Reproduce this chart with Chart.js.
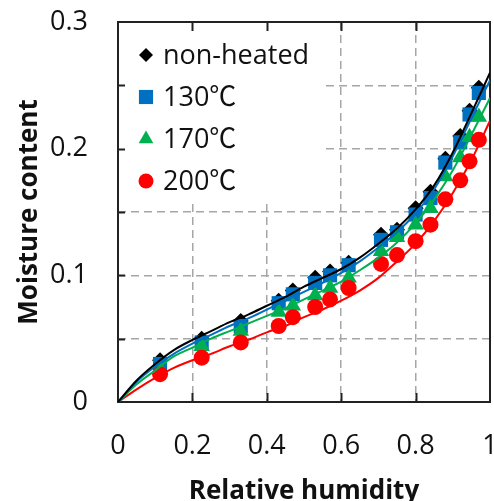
<!DOCTYPE html>
<html>
<head>
<meta charset="utf-8">
<script src="https://cdn.jsdelivr.net/npm/chart.js@4.4.1/dist/chart.umd.min.js"></script>
<style>
  html, body { margin: 0; padding: 0; background: #fff; overflow: hidden; }
</style>
</head>
<body>
<canvas id="chart" width="504" height="501"></canvas>
<script>
// measured points (relative humidity vs moisture content)
const rh = [0.113, 0.225, 0.33, 0.432, 0.47, 0.53, 0.57, 0.62, 0.707, 0.75, 0.80, 0.84, 0.88, 0.92, 0.945, 0.97];
const nonHeated = [0.033, 0.050, 0.064, 0.080, 0.088, 0.098, 0.103, 0.110, 0.132, 0.136, 0.153, 0.166, 0.192, 0.210, 0.230, 0.248];
const heated130 = [0.030, 0.047, 0.060, 0.078, 0.085, 0.094, 0.100, 0.108, 0.128, 0.134, 0.148, 0.161, 0.189, 0.205, 0.227, 0.244];
const heated170 = [0.026, 0.044, 0.056, 0.071, 0.076, 0.084, 0.090, 0.098, 0.119, 0.130, 0.140, 0.153, 0.178, 0.193, 0.209, 0.225];
const heated200 = [0.022, 0.035, 0.047, 0.060, 0.067, 0.075, 0.081, 0.090, 0.109, 0.116, 0.127, 0.140, 0.160, 0.175, 0.190, 0.207];

// fitted curves
const fitRh = [0, 0.05, 0.1, 0.15, 0.2, 0.25, 0.3, 0.35, 0.4, 0.45, 0.5, 0.55, 0.6, 0.65, 0.7, 0.75, 0.8, 0.85, 0.9, 0.95, 1.0];
const fitNonHeated = [0, 0.017, 0.030, 0.041, 0.049, 0.056, 0.063, 0.069, 0.076, 0.083, 0.091, 0.098, 0.105, 0.114, 0.125, 0.137, 0.152, 0.171, 0.197, 0.228, 0.260];
const fit130 = [0, 0.016, 0.028, 0.038, 0.046, 0.053, 0.060, 0.066, 0.073, 0.080, 0.087, 0.094, 0.102, 0.111, 0.122, 0.134, 0.149, 0.168, 0.194, 0.224, 0.254];
const fit170 = [0, 0.014, 0.025, 0.036, 0.043, 0.050, 0.056, 0.062, 0.068, 0.074, 0.081, 0.088, 0.095, 0.104, 0.114, 0.126, 0.141, 0.160, 0.183, 0.211, 0.240];
const fit200 = [0, 0.010, 0.019, 0.027, 0.033, 0.038, 0.044, 0.049, 0.055, 0.060, 0.067, 0.073, 0.080, 0.088, 0.098, 0.111, 0.125, 0.143, 0.165, 0.191, 0.222];

const seriesNames = ["non-heated", "130\u2103", "170\u2103", "200\u2103"];
const xTicks = [0, 0.2, 0.4, 0.6, 0.8, 1];
const yTicks = [0, 0.1, 0.2, 0.3];

const colors = ["#000000", "#0070C0", "#00B050", "#FF0000"];
const shapes = ["rectRot", "rect", "triangle", "circle"];
const sizes = [8, 10, 9.5, 8];
const legendSizes = [7, 10, 8.5, 7.5];

const tickFont = { family: "'Open Sans', 'Noto Sans CJK SC', sans-serif", size: 27 };
const titleFont = { family: "'Open Sans', sans-serif", size: 26, weight: "bold" };

function toPoints(xs, ys) {
  return xs.map((v, i) => ({ x: v, y: ys[i] }));
}

const pointSeries = [nonHeated, heated130, heated170, heated200];
const fitSeries = [fitNonHeated, fit130, fit170, fit200];

const datasets = [];
// curves drawn on top of the markers
fitSeries.forEach((ys, i) => {
  datasets.push({
    label: seriesNames[i] + " fit",
    data: toPoints(fitRh, ys),
    showLine: true,
    borderColor: colors[i],
    borderWidth: 2,
    pointRadius: 0,
    cubicInterpolationMode: "monotone",
    order: 0,
  });
});
pointSeries.forEach((ys, i) => {
  datasets.push({
    label: seriesNames[i],
    data: toPoints(rh, ys),
    showLine: false,
    pointStyle: shapes[i],
    pointRadius: sizes[i],
    backgroundColor: colors[i],
    borderColor: colors[i],
    borderWidth: 0,
    order: 4 - i,
  });
});

// white legend box, frame, inward ticks and legend entries
const framePlugin = {
  id: "frame",
  beforeDatasetsDraw(chart) {
    const { ctx, chartArea: a, scales } = chart;
    const x = scales.x, y = scales.y;
    ctx.save();
    ctx.fillStyle = "#fff";
    ctx.fillRect(a.left + 1, a.top + 1, 202, 178);

    ctx.strokeStyle = "#222";
    ctx.lineWidth = 2;
    ctx.strokeRect(a.left, a.top, a.right - a.left, a.bottom - a.top);

    ctx.beginPath();
    for (let v = 0.05; v < 0.3; v += 0.05) {
      const py = Math.round(y.getPixelForValue(v)) + 0.5;
      ctx.moveTo(a.left, py);
      ctx.lineTo(a.left + 7, py);
    }
    xTicks.slice(1, -1).forEach((v) => {
      const px = Math.round(x.getPixelForValue(v)) + 0.5;
      ctx.moveTo(px, a.bottom);
      ctx.lineTo(px, a.bottom - 9);
      ctx.moveTo(px, a.top);
      ctx.lineTo(px, a.top + 9);
    });
    ctx.stroke();

    // legend
    ctx.font = "27px 'Open Sans', 'Noto Sans CJK SC', sans-serif";
    ctx.textBaseline = "middle";
    ctx.textAlign = "left";
    seriesNames.forEach((name, i) => {
      const cy = 55 + i * 42;
      ctx.fillStyle = colors[i];
      ctx.strokeStyle = colors[i];
      ctx.lineWidth = 0;
      Chart.helpers.drawPoint(ctx, { pointStyle: shapes[i], radius: legendSizes[i], borderWidth: 0 }, 146, cy);
      ctx.fillStyle = "#111";
      ctx.fillText(name, 163, cy + 1);
    });
    ctx.restore();
  },
};

new Chart(document.getElementById("chart"), {
  type: "scatter",
  data: { datasets: datasets },
  plugins: [framePlugin],
  options: {
    responsive: false,
    animation: false,
    layout: { padding: { top: 22, right: 14, left: 0, bottom: 0 } },
    plugins: { legend: { display: false }, tooltip: { enabled: false } },
    scales: {
      x: {
        type: "linear",
        min: 0,
        max: 1,
        afterFit(scale) {
          scale.height = 99;
          scale.paddingLeft = 0;
          scale.paddingRight = 0;
        },
        ticks: {
          stepSize: 0.2,
          padding: 28,
          color: "#111",
          font: tickFont,
          maxRotation: 0,
          callback: (v) => (xTicks.some((t) => Math.abs(t - v) < 1e-6) ? String(Math.round(v * 10) / 10) : ""),
        },
        grid: { color: "#a6a6a6", lineWidth: 1.5, drawTicks: false },
        border: { display: false, dash: [8, 5] },
        title: { display: true, text: "Relative humidity", color: "#111", font: titleFont, padding: { top: 0, bottom: -6 } },
      },
      y: {
        type: "linear",
        min: 0,
        max: 0.3,
        afterFit(scale) {
          scale.width = 118;
          scale.paddingTop = 0;
          scale.paddingBottom = 0;
        },
        ticks: {
          stepSize: 0.05,
          padding: 30,
          color: "#111",
          font: tickFont,
          callback: (v) => (yTicks.some((t) => Math.abs(t - v) < 1e-6) ? String(Math.round(v * 10) / 10) : ""),
        },
        grid: { color: "#a6a6a6", lineWidth: 1.5, drawTicks: false },
        border: { display: false, dash: [8, 5] },
        title: { display: true, text: "Moisture content", color: "#111", font: titleFont, padding: { top: 14, bottom: 0 } },
      },
    },
  },
});
</script>
</body>
</html>
